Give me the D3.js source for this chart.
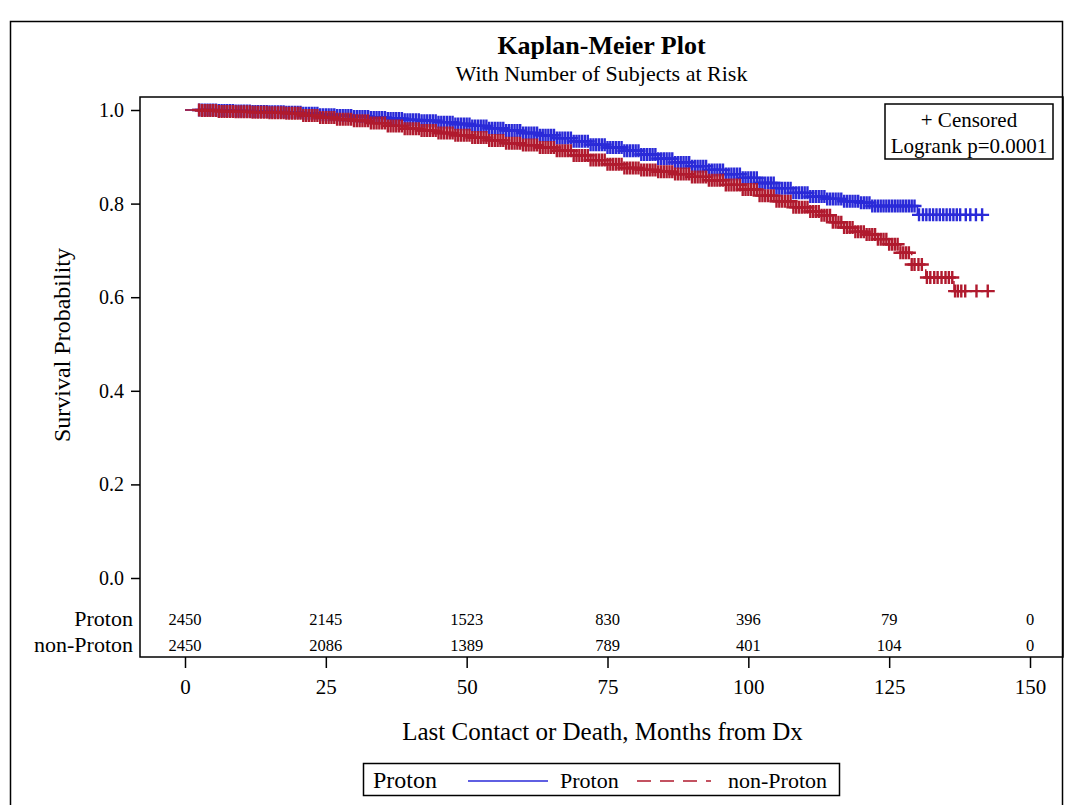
<!DOCTYPE html>
<html>
<head>
<meta charset="utf-8">
<script src="https://cdn.jsdelivr.net/npm/d3@7/dist/d3.min.js"></script>
<style>
body { margin: 0; background: #fff; }
svg { display: block; font-family: "Liberation Serif", "Times New Roman", serif; }
</style>
</head>
<body>
<svg class="chart" width="1068" height="805"></svg>
<script>
//axis ticks and at-risk table
let xTicks = [0, 25, 50, 75, 100, 125, 150];
let yTicks = [0, 0.2, 0.4, 0.6, 0.8, 1.0];
let groups = ["Proton", "non-Proton"];
let atRiskProton = [2450, 2145, 1523, 830, 396, 79, 0];
let atRiskNonProton = [2450, 2086, 1389, 789, 401, 104, 0];

//survival estimates (months, probability)
let protonTimes = [0, 3, 6, 9, 12, 15, 18, 21, 24, 27, 30, 33, 36, 39, 42, 45, 48, 51, 54, 57, 60, 63, 66, 69, 72, 75, 78, 81, 84, 87, 90, 93, 96, 99, 102, 105, 108, 111, 114, 117, 120, 122, 130];
let protonSurv = [1.000, 1.000, 0.999, 0.998, 0.997, 0.996, 0.995, 0.993, 0.990, 0.988, 0.986, 0.984, 0.982, 0.979, 0.977, 0.974, 0.970, 0.966, 0.961, 0.956, 0.951, 0.946, 0.940, 0.933, 0.926, 0.920, 0.913, 0.905, 0.896, 0.888, 0.880, 0.872, 0.863, 0.855, 0.844, 0.833, 0.823, 0.815, 0.810, 0.805, 0.802, 0.795, 0.776];
let nonProtonTimes = [0, 3, 6, 9, 12, 15, 18, 21, 24, 27, 30, 33, 36, 39, 42, 45, 48, 51, 54, 57, 60, 63, 66, 69, 72, 75, 78, 81, 84, 87, 90, 93, 96, 99, 102, 105, 108, 111, 113, 115, 117, 119, 121, 123, 125, 127, 129, 131.5, 136.5];
let nonProtonSurv = [1.000, 0.999, 0.997, 0.996, 0.995, 0.994, 0.993, 0.988, 0.984, 0.980, 0.977, 0.972, 0.966, 0.960, 0.956, 0.951, 0.946, 0.941, 0.935, 0.929, 0.925, 0.920, 0.913, 0.903, 0.893, 0.884, 0.876, 0.872, 0.868, 0.863, 0.857, 0.850, 0.840, 0.830, 0.817, 0.805, 0.792, 0.783, 0.775, 0.760, 0.749, 0.740, 0.734, 0.724, 0.713, 0.695, 0.670, 0.642, 0.613];

//censoring times (months), dense part shared by both arms
let censorMonths = [
	2.5, 3, 3.5, 4, 4.5, 5, 5.5, 6, 6.5, 7, 7.5, 8, 8.5, 9, 9.5,
	10, 10.5, 11, 11.5, 12, 12.5, 13, 13.5, 14, 14.5, 15, 15.5, 16, 16.5, 17, 17.5, 18, 18.5, 19, 19.5,
	20, 20.5, 21, 21.5, 22, 22.5, 23, 23.5, 24, 24.5, 25, 25.5, 26, 26.5, 27, 27.5, 28, 28.5, 29, 29.5,
	30, 30.5, 31, 31.5, 32, 32.5, 33, 33.5, 34, 34.5, 35, 35.5, 36, 36.5, 37, 37.5, 38, 38.5, 39, 39.5,
	40, 40.5, 41, 41.5, 42, 42.5, 43, 43.5, 44, 44.5, 45, 45.5, 46, 46.5, 47, 47.5, 48, 48.5, 49, 49.5,
	50, 50.5, 51, 51.5, 52, 52.5, 53, 53.5, 54, 54.5, 55, 55.5, 56, 56.5, 57, 57.5, 58, 58.5, 59, 59.5,
	60, 60.5, 61, 61.5, 62, 62.5, 63, 63.5, 64, 64.5, 65, 65.5, 66, 66.5, 67, 67.5, 68, 68.5, 69, 69.5,
	70, 70.5, 71, 71.5, 72, 72.5, 73, 73.5, 74, 74.5, 75, 75.5, 76, 76.5, 77, 77.5, 78, 78.5, 79, 79.5,
	80, 80.5, 81, 81.5, 82, 82.5, 83, 83.5, 84, 84.5, 85, 85.5, 86, 86.5, 87, 87.5, 88, 88.5, 89, 89.5,
	90, 90.5, 91, 91.5, 92, 92.5, 93, 93.5, 94, 94.5, 95, 95.5, 96, 96.5, 97, 97.5, 98, 98.5, 99, 99.5,
	100, 100.5, 101, 101.5, 102, 102.5, 103, 103.5, 104, 104.5, 105, 105.5, 106, 106.5, 107, 107.5, 108, 108.5, 109, 109.5,
	110, 110.5, 111, 111.5, 112, 112.5, 113, 113.5, 114, 114.5, 115, 115.5, 116, 116.5, 117, 117.5, 118, 118.5, 119, 119.5,
	120, 120.5, 121, 121.5, 122, 122.5, 123, 123.5, 124, 124.5, 125, 125.5, 126, 126.5, 127, 127.5, 128, 128.5, 129, 129.5
];
let protonTailCensor = [130.3, 131, 131.6, 132.2, 132.8, 133.4, 134, 134.6, 135.2, 135.8, 136.4, 137, 137.6, 138.6, 139.4, 140.4, 141.5];
let nonProtonTailCensor = [130.2, 130.8, 131.7, 132.3, 133, 133.6, 134.3, 135, 135.6, 136.2, 136.7, 137.2, 137.8, 138.5, 140.5, 142.5];

let blue = "#2a2ad8";
let red = "#b01a2e";

let svg = d3.select(".chart");
let frame = {left: 140, top: 97, right: 1063, bottom: 657};
let midX = (frame.left + frame.right) / 2;

let x = d3.scaleLinear().domain([0, 150]).range([185, 1030]);
let y = d3.scaleLinear().domain([0, 1]).range([578, 110]);

//outer border
svg.append("rect")
	.attr("x", 10.5).attr("y", 21.5)
	.attr("width", 1052).attr("height", 800)
	.attr("fill", "none").attr("stroke", "#000").attr("stroke-width", 1.5);

//titles
svg.append("text")
	.attr("x", midX).attr("y", 54)
	.attr("text-anchor", "middle")
	.style("font-size", "26px").style("font-weight", "bold")
	.text("Kaplan-Meier Plot");
svg.append("text")
	.attr("x", midX).attr("y", 81)
	.attr("text-anchor", "middle")
	.style("font-size", "22px")
	.text("With Number of Subjects at Risk");

//plot frame
svg.append("rect")
	.attr("x", frame.left).attr("y", frame.top)
	.attr("width", frame.right - frame.left).attr("height", frame.bottom - frame.top)
	.attr("fill", "none").attr("stroke", "#000").attr("stroke-width", 1.5);

//y axis
let yAxis = svg.append("g")
	.attr("transform", "translate(" + frame.left + ",0)")
	.call(d3.axisLeft(y).tickValues(yTicks).tickFormat(d3.format(".1f")).tickSize(9).tickSizeOuter(0))
	.attr("font-family", null).attr("font-size", null);
yAxis.select(".domain").remove();
yAxis.selectAll("line").attr("stroke-width", 1.5);
yAxis.selectAll("text")
	.attr("x", -16)
	.style("font-size", "20px").attr("fill", "#000");

svg.append("text")
	.attr("transform", "translate(70,345) rotate(-90)")
	.attr("text-anchor", "middle")
	.style("font-size", "24px")
	.text("Survival Probability");

//x axis below the at-risk table
let xAxis = svg.append("g")
	.attr("transform", "translate(0," + frame.bottom + ")")
	.call(d3.axisBottom(x).tickValues(xTicks).tickSize(11).tickSizeOuter(0))
	.attr("font-family", null).attr("font-size", null);
xAxis.select(".domain").remove();
xAxis.selectAll("line").attr("stroke-width", 1.5);
xAxis.selectAll("text")
	.attr("y", 22)
	.style("font-size", "21px").attr("fill", "#000");

svg.append("text")
	.attr("x", midX + 1).attr("y", 740)
	.attr("text-anchor", "middle")
	.style("font-size", "25px")
	.text("Last Contact or Death, Months from Dx");

//at-risk table
let riskRows = [atRiskProton, atRiskNonProton];
let rowY = [618, 644];
riskRows.forEach(function(row, r){
	svg.append("text")
		.attr("x", 133).attr("y", rowY[r]).attr("dy", "0.35em")
		.attr("text-anchor", "end")
		.style("font-size", "22px")
		.text(groups[r]);
	svg.append("g").selectAll("text")
		.data(row)
		.enter()
		.append("text")
		.attr("x", function(d, i){ return x(xTicks[i]); })
		.attr("y", rowY[r] + 1).attr("dy", "0.35em")
		.attr("text-anchor", "middle")
		.style("font-size", "16.5px")
		.text(function(d){ return d; });
});

//step lookup of the survival estimate at time t
function survAt(times, surv, t){
	let i = d3.bisectRight(times, t) - 1;
	return surv[Math.max(0, i)];
}

function drawGroup(times, surv, censor, color, dash){
	let last = censor[censor.length - 1];
	let pts = times.map(function(t, i){ return [t, surv[i]]; });
	pts.push([last, surv[surv.length - 1]]);

	let line = d3.line()
		.x(function(d){ return x(d[0]); })
		.y(function(d){ return y(d[1]); })
		.curve(d3.curveStepAfter);

	svg.append("path")
		.datum(pts)
		.attr("d", line)
		.attr("fill", "none")
		.attr("stroke", color)
		.attr("stroke-width", 1.5)
		.attr("stroke-dasharray", dash);

	svg.append("g").selectAll("path")
		.data(censor)
		.enter()
		.append("path")
		.attr("d", function(t){
			let cx = x(t), cy = y(survAt(times, surv, t));
			return "M" + (cx - 7) + "," + cy + "H" + (cx + 7) + "M" + cx + "," + (cy - 6.5) + "V" + (cy + 6.5);
		})
		.attr("fill", "none")
		.attr("stroke", color)
		.attr("stroke-width", 2.4);
}

drawGroup(protonTimes, protonSurv, censorMonths.concat(protonTailCensor), blue, null);
drawGroup(nonProtonTimes, nonProtonSurv, censorMonths.concat(nonProtonTailCensor), red, "12,8");

//censored / logrank inset
svg.append("rect")
	.attr("x", 885).attr("y", 104)
	.attr("width", 168).attr("height", 55)
	.attr("fill", "#fff").attr("stroke", "#000").attr("stroke-width", 1.5);
svg.append("text")
	.attr("x", 969).attr("y", 127)
	.attr("text-anchor", "middle")
	.style("font-size", "21px")
	.text("+ Censored");
svg.append("text")
	.attr("x", 969).attr("y", 153)
	.attr("text-anchor", "middle")
	.style("font-size", "21px")
	.text("Logrank p=0.0001");

//bottom legend
let legend = svg.append("g");
legend.append("rect")
	.attr("x", 363.5).attr("y", 763.5)
	.attr("width", 476).attr("height", 32)
	.attr("fill", "#fff").attr("stroke", "#000").attr("stroke-width", 1.5);
legend.append("text")
	.attr("x", 373).attr("y", 788)
	.style("font-size", "24px")
	.text("Proton");
legend.append("line")
	.attr("x1", 468).attr("x2", 548).attr("y1", 781).attr("y2", 781)
	.attr("stroke", blue).attr("stroke-width", 1.5);
legend.append("text")
	.attr("x", 560).attr("y", 788)
	.style("font-size", "22px")
	.text("Proton");
legend.append("line")
	.attr("x1", 637).attr("x2", 711).attr("y1", 781).attr("y2", 781)
	.attr("stroke", red).attr("stroke-width", 1.5)
	.attr("stroke-dasharray", "14,9");
legend.append("text")
	.attr("x", 728).attr("y", 788)
	.style("font-size", "22px")
	.text("non-Proton");
</script>
</body>
</html>
